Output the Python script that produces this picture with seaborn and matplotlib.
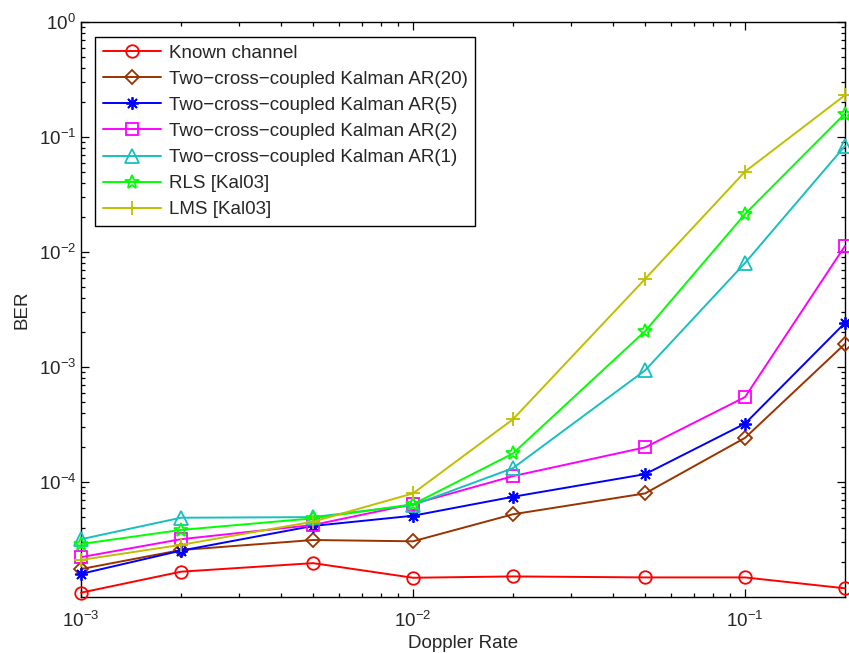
import matplotlib
matplotlib.use("Agg")
import matplotlib.pyplot as plt
import seaborn as sns
import pandas as pd
from matplotlib.ticker import LogLocator, NullFormatter

sns.set_style("ticks")
plt.rcParams["font.family"] = ["Liberation Sans", "DejaVu Sans"]
plt.rcParams["mathtext.fontset"] = "custom"
plt.rcParams["mathtext.rm"] = "Liberation Sans"
plt.rcParams["mathtext.it"] = "Liberation Sans:italic"
plt.rcParams["mathtext.bf"] = "Liberation Sans:bold"

# Doppler rates (x axis)
doppler = [0.001, 0.002, 0.005, 0.01, 0.02, 0.05, 0.1, 0.2]

# BER per receiver
ber_known = [1.09e-5, 1.66e-5, 1.97e-5, 1.47e-5, 1.51e-5, 1.48e-5, 1.48e-5, 1.19e-5]
ber_ar20 = [1.75e-5, 2.56e-5, 3.13e-5, 3.05e-5, 5.24e-5, 7.96e-5, 2.42e-4, 1.59e-3]
ber_ar5 = [1.59e-5, 2.53e-5, 4.15e-5, 5.09e-5, 7.44e-5, 1.17e-4, 3.22e-4, 2.42e-3]
ber_ar2 = [2.22e-5, 3.18e-5, 4.23e-5, 6.43e-5, 1.125e-4, 2.0e-4, 5.48e-4, 1.13e-2]
ber_ar1 = [3.18e-5, 4.89e-5, 4.95e-5, 6.3e-5, 1.32e-4, 9.35e-4, 8.03e-3, 8.36e-2]
ber_rls = [2.89e-5, 3.83e-5, 4.83e-5, 6.4e-5, 1.77e-4, 2.05e-3, 2.14e-2, 0.160]
ber_lms = [2.10e-5, 2.84e-5, 4.52e-5, 7.96e-5, 3.51e-4, 5.83e-3, 5.0e-2, 0.231]

labels = [
    "Known channel",
    "Two\u2212cross\u2212coupled Kalman AR(20)",
    "Two\u2212cross\u2212coupled Kalman AR(5)",
    "Two\u2212cross\u2212coupled Kalman AR(2)",
    "Two\u2212cross\u2212coupled Kalman AR(1)",
    "RLS [Kal03]",
    "LMS [Kal03]",
]

series = [ber_known, ber_ar20, ber_ar5, ber_ar2, ber_ar1, ber_rls, ber_lms]
colors = ["#ff0000", "#993300", "#0000ff", "#ff00ff", "#17bfbf", "#00ff00", "#bfbf00"]
markers = ["o", "D", (8, 2, 0), "s", "^", "*", "+"]
msizes = [9, 7.5, 9, 8, 9.5, 10.5, 10]

fs = 13.5

fig = plt.figure(figsize=(8.49, 6.53), dpi=100)
ax = fig.add_axes([81 / 849, 1 - 597 / 653, 764 / 849, 575 / 653])

for lab, ys, c, m, ms in zip(labels, series, colors, markers, msizes):
    df = pd.DataFrame({"x": doppler, "y": ys})
    sns.lineplot(data=df, x="x", y="y", ax=ax, color=c, marker=m, markersize=ms,
                 markerfacecolor="none", markeredgecolor=c, markeredgewidth=1.3,
                 linewidth=1.4, label=lab, clip_on=False, zorder=3)

ax.set_xscale("log")
ax.set_yscale("log")
ax.set_xlim(1e-3, 0.2)
ax.set_ylim(1e-5, 1)
ax.set_yticks([1e-4, 1e-3, 1e-2, 1e-1, 1e0])
ax.yaxis.set_minor_locator(LogLocator(base=10, subs=range(2, 10), numticks=20))
ax.yaxis.set_minor_formatter(NullFormatter())
ax.xaxis.set_minor_formatter(NullFormatter())

ax.tick_params(which="both", direction="in", top=True, right=True, labelsize=fs,
               color="black", width=0.9)
ax.tick_params(which="major", length=6)
ax.tick_params(which="minor", length=3)
ax.tick_params(axis="x", pad=10)
for sp in ax.spines.values():
    sp.set_linewidth(1.0)
    sp.set_color("black")
    sp.set_visible(True)

ax.set_xlabel("Doppler Rate", fontsize=fs, labelpad=3)
ax.set_ylabel("BER", fontsize=fs, labelpad=6)

leg = ax.legend(loc="upper left", bbox_to_anchor=(14 / 764, 1 - 15 / 575),
                borderaxespad=0, fontsize=fs, handlelength=3.1, handletextpad=0.45,
                labelspacing=0.48, borderpad=0.4, frameon=True, fancybox=False,
                edgecolor="black", framealpha=1)
leg.get_frame().set_linewidth(1.0)

fig.savefig("out.png", dpi=100, facecolor="white")
